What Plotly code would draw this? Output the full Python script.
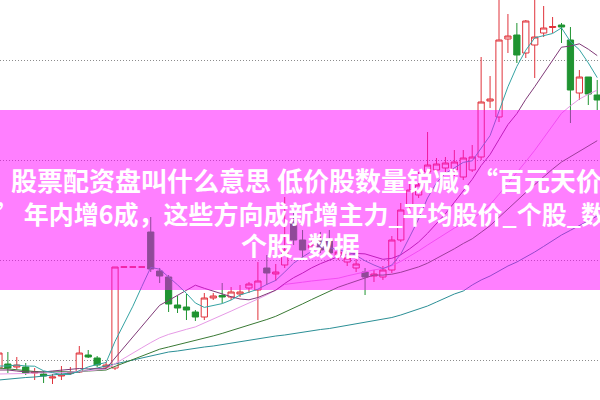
import plotly.graph_objects as go

# ---- data (price units) ----
day = list(range(68))
open_ = [3.2, 3.6, 3.3, 3.3, 2.7, 2.6, 2.2, 2.4, 2.65, 2.8, 4.5, 4.2, 3.3, 3.2,
         13.3, 13.3, 13.3, 16.8, 12.9, 12.3, 9.5, 9.3, 8.8, 8.3, 10.2, 10.45, 10.3, 10.6,
         11.2, 11.0, 13.2, 12.6, 13.5, 17.7, 16.0, 15.2, 16.0, 16.0, 14.4, 13.8, 13.2, 12.8,
         12.4, 12.3, 13.0, 16.0, 19.5, 20.5, 22.8, 23.0, 23.2, 23.0, 22.3, 23.0, 24.3, 29.9,
         28.3, 36.1, 36.5, 34.7, 35.5, 36.7, 37.25, 37.5, 36.0, 30.7, 32.3, 30.5]
high = [5.0, 4.8, 4.3, 3.7, 3.2, 2.9, 2.6, 3.4, 3.3, 5.4, 5.0, 4.4, 3.8, 13.3,
        13.3, 13.3, 13.3, 18.3, 13.2, 12.5, 10.4, 10.6, 9.0, 10.7, 10.7, 11.7, 11.3, 11.5,
        11.8, 13.8, 14.5, 13.6, 20.3, 18.7, 17.0, 16.0, 16.8, 17.0, 15.2, 14.8, 14.2, 13.2,
        13.0, 13.4, 16.4, 19.7, 21.7, 22.8, 26.8, 24.2, 24.3, 25.0, 25.0, 25.5, 34.3, 32.4,
        40.5, 38.6, 37.7, 38.0, 40.5, 39.4, 38.3, 37.7, 37.3, 33.0, 32.3, 32.0]
low = [2.8, 2.7, 3.1, 2.5, 2.0, 1.7, 1.6, 2.0, 2.5, 2.7, 4.2, 3.3, 3.1, 3.0,
       13.3, 13.3, 13.3, 12.8, 11.7, 8.8, 8.7, 8.0, 7.9, 8.0, 10.0, 9.7, 10.0, 10.3,
       10.7, 8.0, 11.5, 11.9, 13.2, 15.5, 14.2, 14.8, 14.7, 14.4, 14.0, 13.4, 12.8, 10.5,
       11.8, 12.0, 12.7, 15.8, 19.0, 20.2, 22.5, 22.6, 22.8, 22.4, 22.0, 22.8, 24.0, 29.2,
       27.8, 34.7, 33.7, 34.2, 32.2, 36.3, 36.7, 35.7, 27.7, 30.0, 29.5, 29.0]
close = [4.7, 3.2, 3.5, 2.7, 2.8, 2.4, 2.3, 2.5, 2.75, 4.7, 4.3, 3.5, 3.5, 13.3,
         13.3, 13.3, 13.3, 13.1, 12.4, 9.6, 9.2, 9.0, 8.3, 10.2, 10.4, 10.3, 10.8, 10.8,
         11.6, 11.9, 12.7, 12.8, 15.0, 16.0, 15.0, 15.5, 15.0, 14.7, 14.8, 14.2, 13.6, 12.3,
         12.6, 13.0, 16.0, 19.0, 21.0, 21.5, 23.5, 23.6, 23.7, 23.8, 24.2, 24.3, 29.8, 30.1,
         36.0, 36.4, 34.5, 37.9, 36.3, 37.2, 37.35, 37.3, 31.0, 32.3, 30.6, 30.0]

ma5 = [3.4, 3.4, 3.5, 3.4, 3.38, 2.92, 2.74, 2.54, 2.55, 2.93, 3.31, 3.55, 3.75, 5.86,
       7.58, 9.38, 11.34, 13.26, 13.08, 12.34, 11.52, 10.66, 9.7, 9.26, 9.42, 9.64, 10.0, 10.5,
       10.78, 11.08, 11.56, 11.96, 12.8, 13.68, 14.3, 14.86, 15.3, 15.24, 15.0, 14.84, 14.46, 13.92,
       13.5, 13.14, 13.5, 14.58, 16.32, 18.1, 20.2, 21.72, 22.66, 23.22, 23.76, 23.92, 25.16, 26.44,
       28.88, 31.32, 33.36, 34.98, 36.22, 36.46, 36.65, 37.21, 35.83, 35.03, 33.71, 32.24]
ma10 = [3.0, 3.0, 2.9, 2.8, 2.8, 2.8, 2.9, 3.0, 3.1, 3.15, 3.11, 3.14, 3.14, 4.2,
        5.25, 6.34, 7.44, 8.5, 9.47, 9.96, 10.45, 11.0, 11.48, 11.17, 10.88, 10.58, 10.33, 10.1,
        10.02, 10.25, 10.6, 10.98, 11.65, 12.23, 12.69, 13.21, 13.63, 14.02, 14.34, 14.57, 14.66, 14.61,
        14.37, 14.07, 14.17, 14.52, 15.12, 15.8, 16.67, 17.61, 18.62, 19.77, 20.93, 22.06, 23.44, 24.55,
        26.05, 27.54, 28.64, 30.07, 31.33, 32.67, 33.98, 35.28, 35.4, 35.62, 35.08, 34.44]
ma20 = [2.6, 2.6, 2.65, 2.65, 2.7, 2.7, 2.7, 2.75, 2.8, 2.85, 2.9, 3.0, 3.1, 3.65,
        4.17, 4.7, 5.22, 5.74, 6.22, 6.56, 6.78, 7.07, 7.31, 7.69, 8.07, 8.46, 8.89, 9.3,
        9.74, 10.1, 10.52, 10.99, 11.56, 11.7, 11.78, 11.9, 11.98, 12.06, 12.18, 12.41, 12.63, 12.8,
        13.01, 13.15, 13.43, 13.86, 14.37, 14.91, 15.5, 16.09, 16.64, 17.19, 17.65, 18.06, 18.8, 19.53,
        20.58, 21.67, 22.65, 23.84, 24.97, 26.22, 27.46, 28.67, 29.42, 30.09, 30.57, 30.99]
ma30 = [3.2, 3.1, 3.0, 2.9, 2.85, 2.8, 2.8, 2.8, 2.85, 2.85, 2.9, 2.95, 3.0, 3.36,
        3.71, 4.06, 4.41, 4.76, 5.08, 5.3, 5.52, 5.73, 5.91, 6.15, 6.41, 6.66, 6.93, 7.19,
        7.48, 7.79, 8.05, 8.37, 8.76, 9.2, 9.61, 10.04, 10.47, 10.87, 11.28, 11.59, 11.9, 12.2,
        12.5, 12.49, 12.58, 12.77, 13.03, 13.31, 13.68, 14.14, 14.63, 15.12, 15.65, 16.12, 16.77, 17.43,
        18.27, 19.12, 19.88, 20.75, 21.54, 22.35, 23.09, 23.8, 24.34, 24.9, 25.42, 25.93]
ma60 = [2.0, 2.1, 2.2, 2.25, 2.3, 2.4, 2.5, 2.6, 2.7, 2.8, 3.0, 3.2, 3.4, 3.6,
        3.8, 4.0, 4.2, 4.4, 4.6, 4.8, 4.9, 5.05, 5.15, 5.3, 5.4, 5.55, 5.7, 5.85,
        6.0, 6.15, 6.3, 6.4, 6.5, 6.65, 6.8, 6.9, 7.05, 7.15, 7.3, 7.45, 7.6, 7.75,
        7.9, 8.1, 8.25, 8.5, 8.8, 9.1, 9.4, 9.8, 10.2, 10.6, 10.9, 11.5, 12.0, 12.4,
        12.9, 13.4, 13.8, 14.27, 14.8, 15.36, 15.93, 16.5, 16.97, 17.47, 17.94, 18.4]

grid_levels = [4, 14, 24, 34]
title_lines = ["股票配资盘叫什么意思 低价股数量锐减，“百元天价股”",
               "价股” 年内增6成，这些方向成新增主力_平均股价_个股_数据",
               "个股_数据"]

fig = go.Figure()
fig.add_trace(go.Candlestick(
    x=day, open=open_, high=high, low=low, close=close,
    increasing=dict(line=dict(color="#e0333b", width=1), fillcolor="#ffffff"),
    decreasing=dict(line=dict(color="#1f9431", width=1), fillcolor="#1f9431"),
    whiskerwidth=0, showlegend=False, hoverinfo="skip"))

for vals, col in [(ma60, "#2b8f96"), (ma30, "#3a7a35"), (ma20, "#e69ae6"),
                  (ma10, "#803a78"), (ma5, "#35a3a3")]:
    fig.add_trace(go.Scatter(x=day, y=vals, mode="lines",
                             line=dict(color=col, width=1),
                             showlegend=False, hoverinfo="skip"))

font_t = dict(family="Noto Sans CJK SC", size=26, color="white", weight="bold")
font_t2 = dict(family="Noto Sans CJK SC", size=25, color="white", weight="bold")
fig.update_layout(
    width=600, height=400,
    margin=dict(l=0, r=0, t=0, b=0),
    paper_bgcolor="white", plot_bgcolor="white",
    boxgap=0.3, boxgroupgap=0,
    hovermode=False,
    xaxis=dict(range=[0.12, 67.31], showgrid=False, zeroline=False,
               showticklabels=False, ticks="", rangeslider=dict(visible=False)),
    yaxis=dict(range=[0, 40], tickvals=grid_levels, showticklabels=False, ticks="",
               showgrid=True, gridcolor="#8c8c8c", griddash="1px,2px", gridwidth=1,
               zeroline=False),
    shapes=[dict(type="rect", xref="paper", yref="paper", x0=0, x1=1,
                 y0=0.275, y1=0.725, fillcolor="rgba(255,0,255,0.5)",
                 line=dict(width=0), layer="above")],
    annotations=[
        dict(text=title_lines[0], x=9 / 600, y=1 - 180 / 400, xref="paper", yref="paper",
             xanchor="left", yanchor="middle", showarrow=False, font=font_t),
        dict(text=title_lines[1], x=-59 / 600, y=1 - 213 / 400, xref="paper", yref="paper",
             xanchor="left", yanchor="middle", showarrow=False, font=font_t2),
        dict(text=title_lines[2], x=0.5, y=1 - 244 / 400, xref="paper", yref="paper",
             xanchor="center", yanchor="middle", showarrow=False, font=font_t),
    ],
)
fig.write_html("out.html", config={"displayModeBar": False, "staticPlot": True},
               post_script="document.body.style.margin='0';")
